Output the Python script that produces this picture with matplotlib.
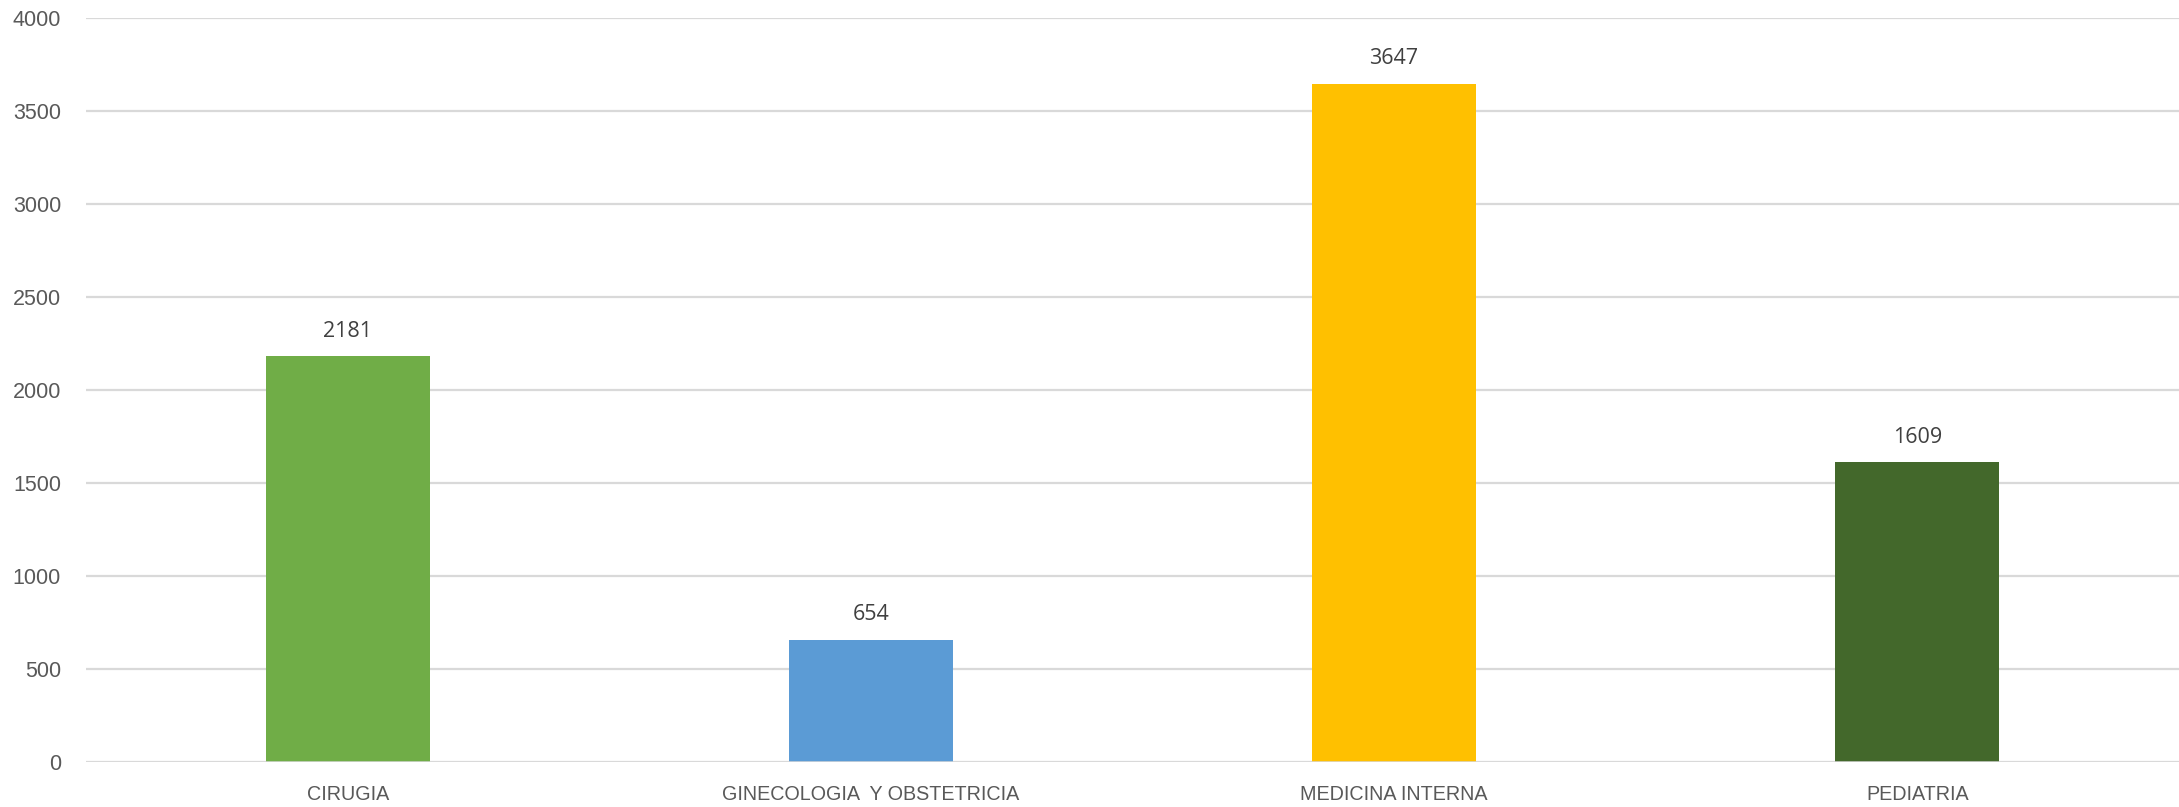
import matplotlib
matplotlib.use("Agg")
import matplotlib.pyplot as plt

categories = ["CIRUGIA", "GINECOLOGIA  Y OBSTETRICIA", "MEDICINA INTERNA", "PEDIATRIA"]
values = [2181, 654, 3647, 1609]
colors = ["#70AD47", "#5B9BD5", "#FFC000", "#43682B"]
yticks = [0, 500, 1000, 1500, 2000, 2500, 3000, 3500, 4000]

fig = plt.figure(figsize=(21.79, 8.07), dpi=100)
ax = fig.add_axes([86/2179, 45.5/807, 1 - 86/2179, (761.5 - 18) / 807])

x = list(range(len(categories)))
bars = ax.bar(x, values, width=0.313, color=colors, zorder=3)

ax.set_xlim(-0.5, len(categories) - 0.5)
ax.set_ylim(0, 4000)
ax.set_yticks(yticks)
ax.set_yticklabels([str(t) for t in yticks])
ax.set_xticks(x)
ax.set_xticklabels(categories)

ax.grid(axis="y", color="#D9D9D9", linewidth=1.6, zorder=0)
for s in ["top", "right", "left", "bottom"]:
    ax.spines[s].set_visible(False)
ax.axhline(0, color="#D9D9D9", linewidth=1.8, zorder=4)

narrow = ["Liberation Sans", "DejaVu Sans"]
ax.tick_params(axis="both", length=0, colors="#595959")
ax.tick_params(axis="y", pad=18)
ax.tick_params(axis="x", pad=17)
for lab in ax.get_yticklabels():
    lab.set_fontfamily(narrow)
    lab.set_fontsize(15.5)
    lab.set_color("#595959")
for lab in ax.get_xticklabels():
    lab.set_fontfamily(narrow)
    lab.set_fontsize(14.2)
    lab.set_color("#595959")

for b, v in zip(bars, values):
    ax.annotate(str(v), (b.get_x() + b.get_width() / 2, v), xytext=(0, 18),
                textcoords="offset points", ha="center", va="center",
                fontsize=15.5, color="#404040", family=["Open Sans", "DejaVu Sans"])

fig.savefig("out.png", dpi=100)
